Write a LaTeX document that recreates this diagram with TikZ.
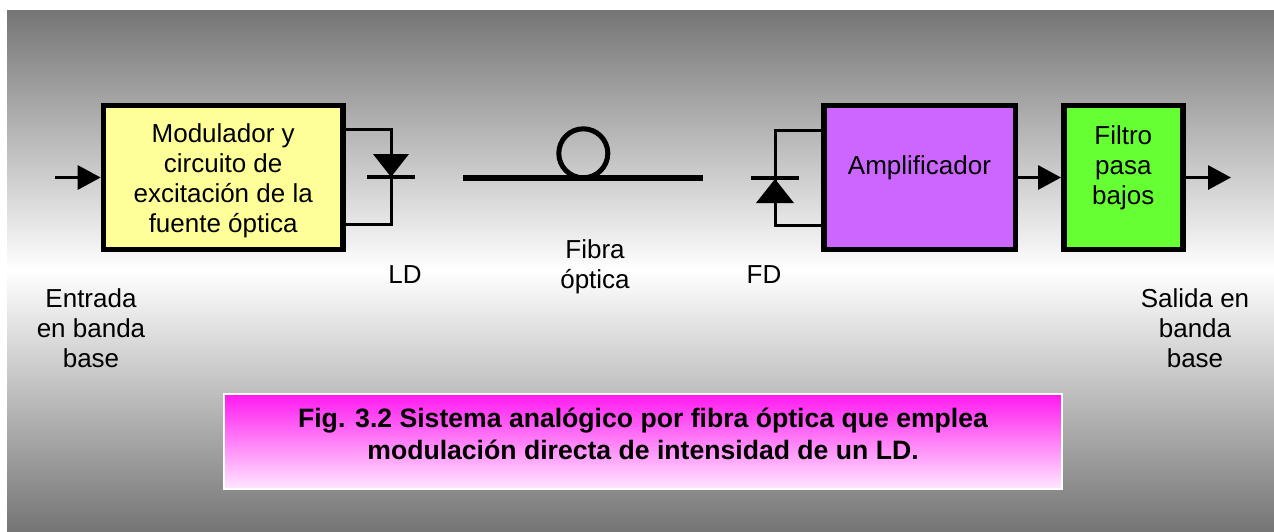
\documentclass[tikz,border=0pt]{standalone}
\usepackage{fontspec}
\setmainfont{Liberation Sans}
\usetikzlibrary{arrows.meta}
\definecolor{bggray}{RGB}{117,117,117}
\definecolor{modyellow}{RGB}{255,255,153}
\definecolor{amppurple}{RGB}{204,102,255}
\definecolor{filtgreen}{RGB}{102,255,51}
\definecolor{captop}{RGB}{255,25,240}
\definecolor{capbot}{RGB}{255,232,255}
\begin{document}
\begin{tikzpicture}[x=1pt,y=-1pt,
  blockbox/.style={draw=black, line width=5.5pt, inner sep=0pt, minimum height=144pt},
  lbl/.style={inner sep=0pt, align=center, font=\fontsize{26}{30}\selectfont},
  wire/.style={line width=3pt},
  sig/.style={line width=3pt, -{Triangle[length=23pt,width=24pt]}},
  diodebar/.style={line width=4pt},
  fiberline/.style={line width=5.5pt}]
\useasboundingbox (0,0) rectangle (1274,531);
% background
\shade[top color=bggray, bottom color=bggray, middle color=white] (7,10) rectangle (1274,531);
% blocks
\node[blockbox, fill=modyellow, minimum width=239.5pt] (mod) at (223.2,177.5) {};
\node[lbl] (modtxt) at (223.2,181) {Modulador y\\circuito de\\excitación de la\\fuente óptica};
\node[blockbox, fill=amppurple, minimum width=191.5pt] (amp) at (919.5,177.5) {};
\node[lbl] (amptxt) at (919.5,168) {Amplificador};
\node[blockbox, fill=filtgreen, minimum width=119pt] (filt) at (1123.3,177.5) {};
\node[lbl] (filttxt) at (1123.3,168) {Filtro\\pasa\\bajos};
% input / output arrows
\coordinate (inS) at (55,177.5);
\coordinate (outE) at (1231,177.5);
\draw[sig] (inS) -- (mod.west);
\draw[sig] (amp.east) -- (filt.west);
\draw[sig] (filt.east) -- (outE);
% LD diode
\coordinate (ldT) at (391,129.3);
\coordinate (ldB) at (391,224);
\draw[wire] (mod.east |- ldT) -- (ldT) -- (ldB) -- (mod.east |- ldB);
\fill (373,154) -- (409,154) -- (391,177) -- cycle;
\draw[diodebar] (367,177) -- (415,177);
% FD diode
\coordinate (fdT) at (775,130);
\coordinate (fdB) at (775,225);
\draw[wire] (amp.west |- fdT) -- (fdT) -- (fdB) -- (amp.west |- fdB);
\fill (756,203) -- (794,203) -- (775,179) -- cycle;
\draw[diodebar] (751,178) -- (799,178);
% fiber
\coordinate (fibA) at (463,178);
\coordinate (fibB) at (703,178);
\draw[fiberline] (fibA) -- (fibB);
\draw[line width=5pt] (583.3,153.3) circle (24.5);
% labels
\node[lbl] (ld) at (405,275) {LD};
\node[lbl] (fd) at (764,275) {FD};
\node[lbl] (fib) at (595,267) {Fibra\\óptica};
\node[lbl] (entrada) at (91,328) {Entrada\\en banda\\base};
\node[lbl] (salida) at (1195,328) {Salida en\\banda\\base};
% caption
\node[draw=white, line width=1.5pt, top color=captop, bottom color=capbot,
      minimum width=838pt, minimum height=95pt, inner sep=0pt] (cap) at (643,441.5) {};
\node[lbl, font=\fontsize{26.6}{32}\selectfont\bfseries] (captxt) at (643,434)
  {Fig. 3.2 Sistema analógico por fibra óptica que emplea\\modulación directa de intensidad de un LD.};
\end{tikzpicture}
\end{document}
